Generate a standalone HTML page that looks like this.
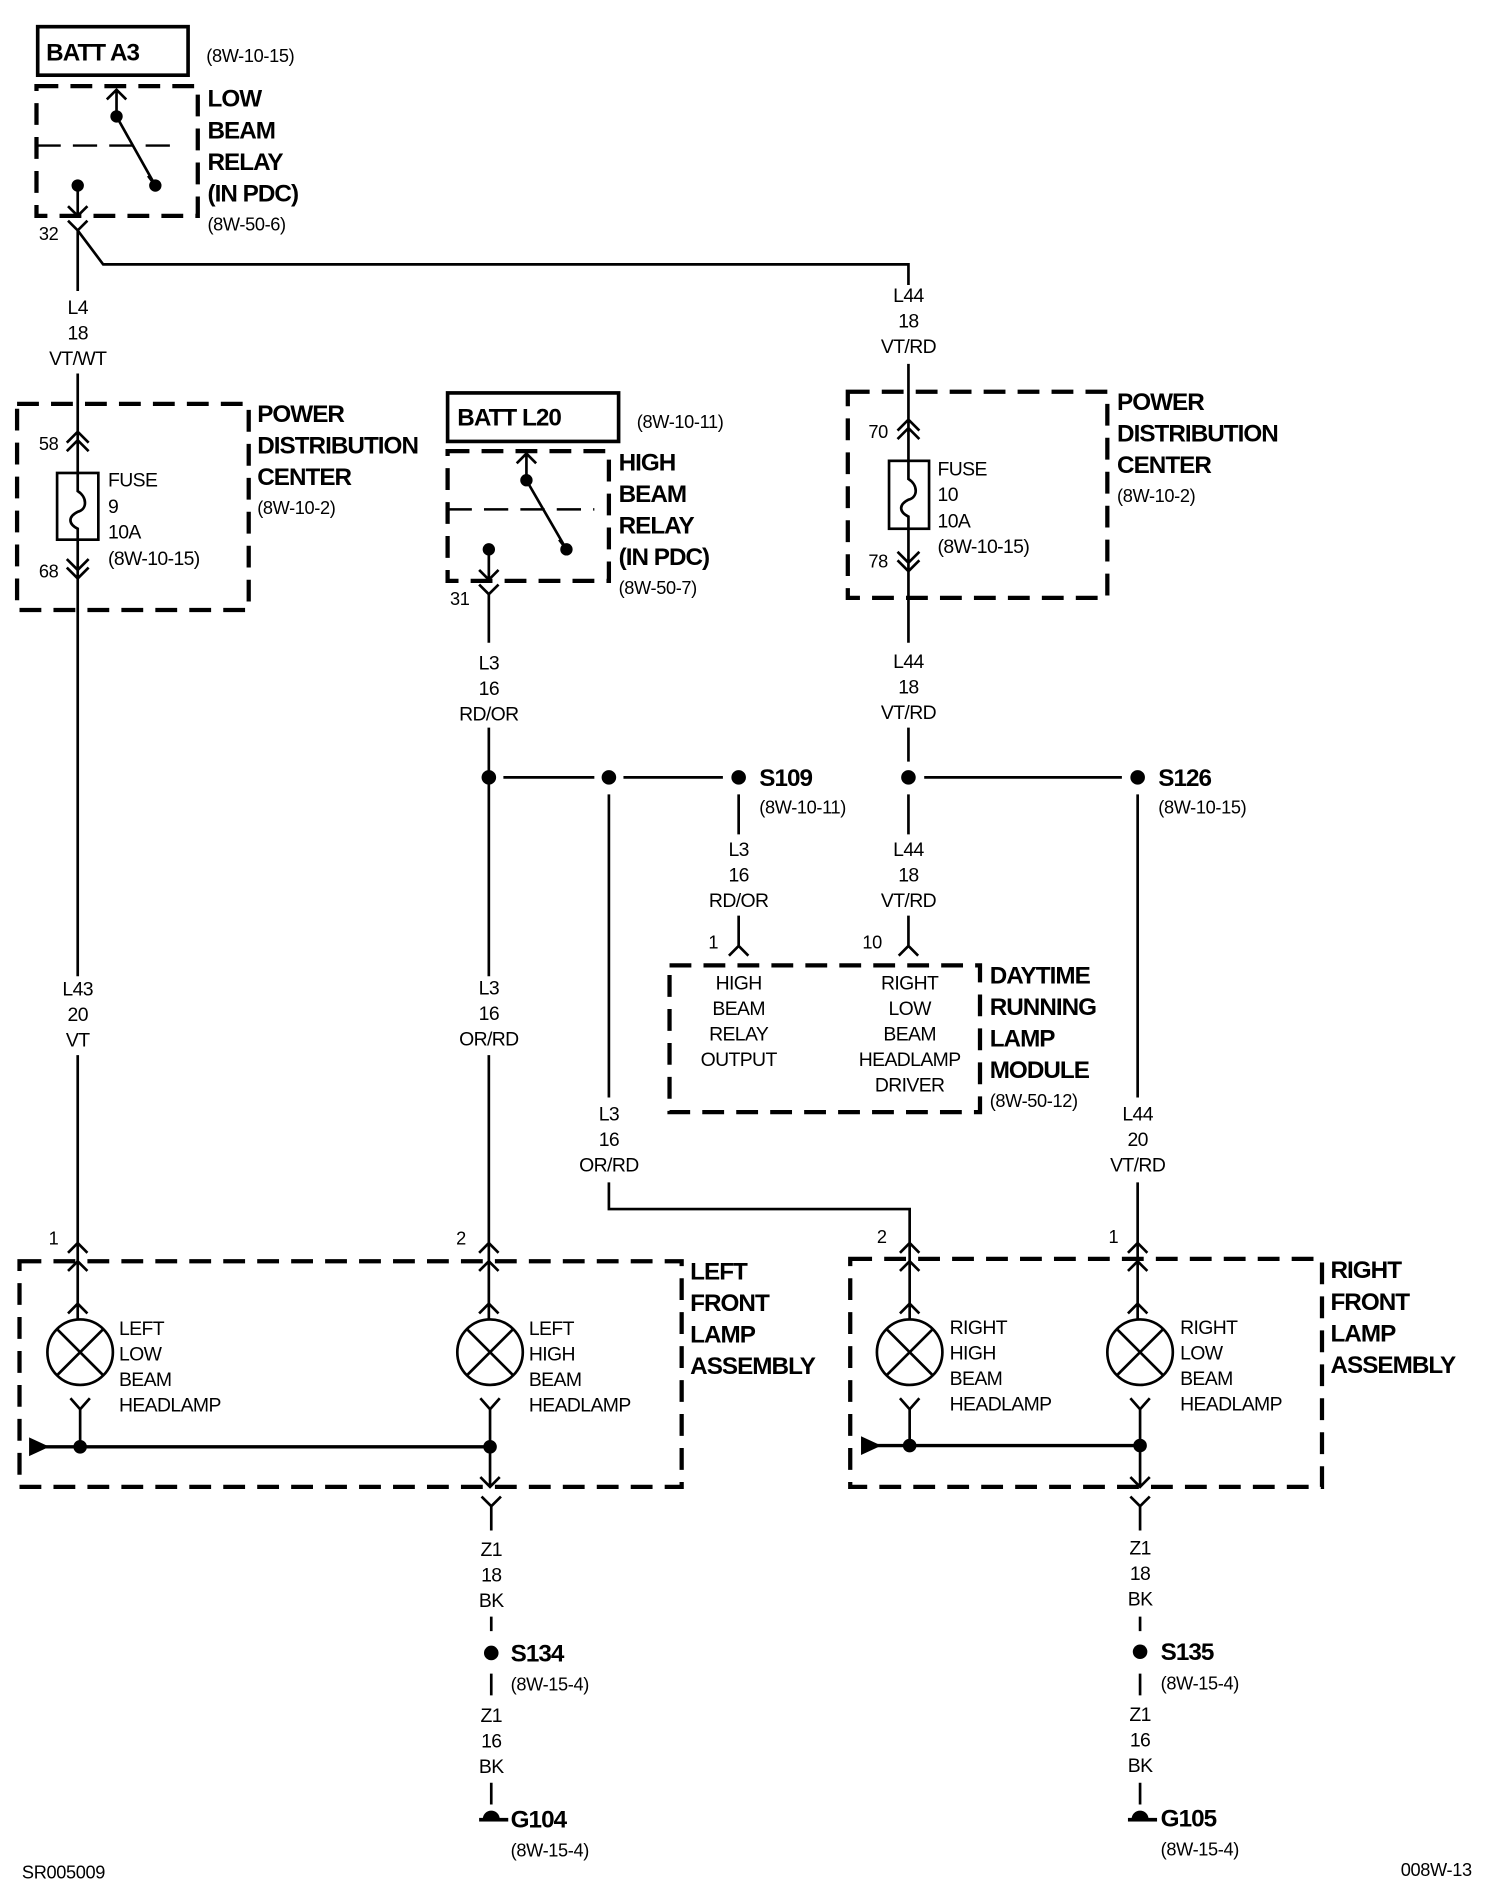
<!DOCTYPE html>
<html><head><meta charset="utf-8"><style>
html,body{margin:0;padding:0;background:#fff;}
svg{display:block;}
text{font-family:"Liberation Sans",Arial,sans-serif;fill:#000;}
.b{font-weight:bold;font-size:20px;letter-spacing:-0.8px;}
.s{font-size:15px;letter-spacing:-0.3px;}
.m{font-size:16px;letter-spacing:-0.5px;}
.w{stroke:#000;stroke-width:2.2;fill:none;}
.d{stroke:#000;stroke-width:3.5;fill:none;stroke-dasharray:18,10;}
.dl{stroke:#000;stroke-width:2;fill:none;stroke-dasharray:20,10;}
.c{text-anchor:middle;}
</style></head><body>
<svg width="1504" height="1904" viewBox="0 0 1240 1570" xmlns="http://www.w3.org/2000/svg">
<g class="w">
<!-- Low beam relay -->
<rect x="31" y="22" width="124" height="40" stroke-width="3"/>
<rect x="30" y="71" width="133" height="107" class="d"/>
<path d="M96 74 L96 96 M88 82 L96 74 L104 82 M96 96 L128 153 M122 145 L128 153"/>
<path d="M30 120 L150 120" class="dl"/>
<path d="M64 153 L64 178 M56 170 L64 178 L72 170"/>
<path d="M56 182 L64 190 L72 182 M64 190 L64 240 M64 190 L85 218 L749 218 L749 235"/>
<circle cx="96" cy="96" r="4" fill="#000"/><circle cx="128" cy="153" r="4" fill="#000"/><circle cx="64" cy="153" r="4" fill="#000"/>
<!-- left PDC -->
<rect x="14" y="333" width="191" height="170" class="d"/>
<path d="M64 308 L64 805 M55 365 L64 356 L73 365 M55 372 L64 363 L73 372 M55 461 L64 470 L73 461 M55 468 L64 477 L73 468"/>
<rect x="47" y="390" width="34" height="55" fill="#fff"/>
<path d="M64 390 L64 405 C72 410 72 420 64 422 C56 426 56 432 64 436 L64 445"/>
<path d="M64 870 L64 1075"/>
<!-- high beam relay -->
<rect x="369" y="324" width="141" height="40" stroke-width="3"/>
<rect x="369" y="372" width="133" height="107" class="d"/>
<path d="M434 374 L434 396 M426 382 L434 374 L442 382 M434 396 L467 453 M461 445 L467 453"/>
<path d="M369 420 L490 420" class="dl"/>
<path d="M403 453 L403 478 M395 470 L403 478 L411 470"/>
<circle cx="434" cy="396" r="4" fill="#000"/><circle cx="467" cy="453" r="4" fill="#000"/><circle cx="403" cy="453" r="4" fill="#000"/>
<path d="M395 482 L403 490 L411 482 M403 490 L403 530 M403 600 L403 805 M403 870 L403 1075"/>
<path d="M415 641 L490 641 M514 641 L596 641"/>
<path d="M502 655 L502 905 M502 975 L502 997 L750 997 L750 1075"/>
<path d="M609 655 L609 688 M609 755 L609 780 M601 788 L609 780 L617 788"/>
<!-- right PDC -->
<rect x="699" y="323" width="214" height="170" class="d"/>
<path d="M749 300 L749 530 M740 355 L749 346 L758 355 M740 362 L749 353 L758 362 M740 455 L749 464 L758 455 M740 462 L749 471 L758 462"/>
<rect x="733" y="380" width="33" height="56" fill="#fff"/>
<path d="M749 380 L749 395 C757 400 757 410 749 412 C741 416 741 422 749 426 L749 436"/>
<path d="M749 600 L749 628 M762 641 L925 641 M749 655 L749 688 M749 755 L749 780 M741 788 L749 780 L757 788"/>
<path d="M938 655 L938 905 M938 975 L938 1075"/>
<rect x="552" y="796" width="256" height="121" class="d"/>
<!-- left lamp assembly -->
<rect x="16" y="1040" width="546" height="186" class="d"/>
<path d="M56 1033 L64 1025 L72 1033 M56 1048 L64 1040 L72 1048 M56 1083 L64 1075 L72 1083 M64 1075 L64 1088"/>
<path d="M395 1033 L403 1025 L411 1033 M395 1048 L403 1040 L411 1048 M395 1083 L403 1075 L411 1083 M403 1075 L403 1088"/>
<circle cx="66" cy="1115" r="27"/><path d="M47 1096 L85 1134 M85 1096 L47 1134"/>
<circle cx="404" cy="1115" r="27"/><path d="M385 1096 L423 1134 M423 1096 L385 1134"/>
<path d="M58 1153 L66 1162 L74 1153 M66 1162 L66 1193 M396 1153 L404 1162 L412 1153 M404 1162 L404 1226 M396 1218 L404 1226 L412 1218"/>
<path d="M30 1193 L404 1193" stroke-width="2.8"/>
<path d="M25 1187 L38 1193 L25 1199 Z" fill="#000"/>
<circle cx="66" cy="1193" r="4.5" fill="#000"/><circle cx="404" cy="1193" r="4.5" fill="#000"/>
<path d="M397 1234 L405 1242 L413 1234 M405 1242 L405 1262 M405 1333 L405 1345 M405 1380 L405 1398 M405 1470 L405 1488"/>
<!-- right lamp assembly -->
<rect x="701" y="1038" width="389" height="188" class="d"/>
<path d="M742 1033 L750 1025 L758 1033 M742 1048 L750 1040 L758 1048 M742 1083 L750 1075 L758 1083 M750 1075 L750 1088"/>
<path d="M930 1033 L938 1025 L946 1033 M930 1048 L938 1040 L946 1048 M930 1083 L938 1075 L946 1083 M938 1075 L938 1088"/>
<circle cx="750" cy="1115" r="27"/><path d="M731 1096 L769 1134 M769 1096 L731 1134"/>
<circle cx="940" cy="1115" r="27"/><path d="M921 1096 L959 1134 M959 1096 L921 1134"/>
<path d="M742 1153 L750 1162 L758 1153 M750 1162 L750 1192 M932 1153 L940 1162 L948 1153 M940 1162 L940 1226 M932 1218 L940 1226 L948 1218"/>
<path d="M716 1192 L940 1192" stroke-width="2.8"/>
<path d="M711 1186 L724 1192 L711 1198 Z" fill="#000"/>
<circle cx="750" cy="1192" r="4.5" fill="#000"/><circle cx="940" cy="1192" r="4.5" fill="#000"/>
<path d="M932 1234 L940 1242 L948 1234 M940 1242 L940 1262 M940 1333 L940 1345 M940 1380 L940 1398 M940 1470 L940 1488"/>
</g>
<!-- splices -->
<g fill="#000">
<circle cx="403" cy="641" r="6"/><circle cx="502" cy="641" r="6"/><circle cx="609" cy="641" r="6"/>
<circle cx="749" cy="641" r="6"/><circle cx="938" cy="641" r="6"/>
<circle cx="405" cy="1363" r="6"/><circle cx="940" cy="1362" r="6"/>
<path d="M398 1500 A7 7 0 0 1 412 1500 Z"/><rect x="395" y="1499" width="24" height="3"/>
<path d="M933 1500 A7 7 0 0 1 947 1500 Z"/><rect x="930" y="1499" width="24" height="3"/>
</g>
<!-- text -->
<text class="b" x="38" y="50">BATT A3</text>
<text class="s" x="170" y="51">(8W-10-15)</text>
<text class="b" x="171" y="88">LOW</text><text class="b" x="171" y="114">BEAM</text><text class="b" x="171" y="140">RELAY</text><text class="b" x="171" y="166">(IN PDC)</text>
<text class="s" x="171" y="190">(8W-50-6)</text>
<text class="s" x="32" y="198">32</text>
<g class="m c"><text x="64" y="259">L4</text><text x="64" y="280">18</text><text x="64" y="301">VT/WT</text></g>
<text class="b" x="212" y="348">POWER</text><text class="b" x="212" y="374">DISTRIBUTION</text><text class="b" x="212" y="400">CENTER</text>
<text class="s" x="212" y="424">(8W-10-2)</text>
<text class="s" x="32" y="371">58</text><text class="s" x="32" y="476">68</text>
<g class="m"><text x="89" y="401">FUSE</text><text x="89" y="423">9</text><text x="89" y="444">10A</text><text x="89" y="466">(8W-10-15)</text></g>
<g class="m c"><text x="64" y="821">L43</text><text x="64" y="842">20</text><text x="64" y="863">VT</text></g>
<text class="b" x="377" y="351">BATT L20</text>
<text class="s" x="525" y="353">(8W-10-11)</text>
<text class="b" x="510" y="388">HIGH</text><text class="b" x="510" y="414">BEAM</text><text class="b" x="510" y="440">RELAY</text><text class="b" x="510" y="466">(IN PDC)</text>
<text class="s" x="510" y="490">(8W-50-7)</text>
<text class="s" x="371" y="499">31</text>
<g class="m c"><text x="403" y="552">L3</text><text x="403" y="573">16</text><text x="403" y="594">RD/OR</text></g>
<g class="m c"><text x="749" y="249">L44</text><text x="749" y="270">18</text><text x="749" y="291">VT/RD</text></g>
<text class="b" x="921" y="338">POWER</text><text class="b" x="921" y="364">DISTRIBUTION</text><text class="b" x="921" y="390">CENTER</text>
<text class="s" x="921" y="414">(8W-10-2)</text>
<text class="s" x="716" y="361">70</text><text class="s" x="716" y="468">78</text>
<g class="m"><text x="773" y="392">FUSE</text><text x="773" y="413">10</text><text x="773" y="435">10A</text><text x="773" y="456">(8W-10-15)</text></g>
<g class="m c"><text x="749" y="551">L44</text><text x="749" y="572">18</text><text x="749" y="593">VT/RD</text></g>
<text class="b" x="626" y="648">S109</text><text class="s" x="626" y="671">(8W-10-11)</text>
<text class="b" x="955" y="648">S126</text><text class="s" x="955" y="671">(8W-10-15)</text>
<g class="m c"><text x="609" y="706">L3</text><text x="609" y="727">16</text><text x="609" y="748">RD/OR</text></g>
<g class="m c"><text x="749" y="706">L44</text><text x="749" y="727">18</text><text x="749" y="748">VT/RD</text></g>
<text class="s" x="584" y="782">1</text><text class="s" x="711" y="782">10</text>
<g class="m c"><text x="609" y="816">HIGH</text><text x="609" y="837">BEAM</text><text x="609" y="858">RELAY</text><text x="609" y="879">OUTPUT</text></g>
<g class="m c"><text x="750" y="816">RIGHT</text><text x="750" y="837">LOW</text><text x="750" y="858">BEAM</text><text x="750" y="879">HEADLAMP</text><text x="750" y="900">DRIVER</text></g>
<text class="b" x="816" y="811">DAYTIME</text><text class="b" x="816" y="837">RUNNING</text><text class="b" x="816" y="863">LAMP</text><text class="b" x="816" y="889">MODULE</text>
<text class="s" x="816" y="913">(8W-50-12)</text>
<g class="m c"><text x="403" y="820">L3</text><text x="403" y="841">16</text><text x="403" y="862">OR/RD</text></g>
<g class="m c"><text x="502" y="924">L3</text><text x="502" y="945">16</text><text x="502" y="966">OR/RD</text></g>
<g class="m c"><text x="938" y="924">L44</text><text x="938" y="945">20</text><text x="938" y="966">VT/RD</text></g>
<text class="s" x="40" y="1026">1</text><text class="s" x="376" y="1026">2</text>
<text class="s" x="723" y="1025">2</text><text class="s" x="914" y="1025">1</text>
<g class="m"><text x="98" y="1101">LEFT</text><text x="98" y="1122">LOW</text><text x="98" y="1143">BEAM</text><text x="98" y="1164">HEADLAMP</text></g>
<g class="m"><text x="436" y="1101">LEFT</text><text x="436" y="1122">HIGH</text><text x="436" y="1143">BEAM</text><text x="436" y="1164">HEADLAMP</text></g>
<g class="m"><text x="783" y="1100">RIGHT</text><text x="783" y="1121">HIGH</text><text x="783" y="1142">BEAM</text><text x="783" y="1163">HEADLAMP</text></g>
<g class="m"><text x="973" y="1100">RIGHT</text><text x="973" y="1121">LOW</text><text x="973" y="1142">BEAM</text><text x="973" y="1163">HEADLAMP</text></g>
<text class="b" x="569" y="1055">LEFT</text><text class="b" x="569" y="1081">FRONT</text><text class="b" x="569" y="1107">LAMP</text><text class="b" x="569" y="1133">ASSEMBLY</text>
<text class="b" x="1097" y="1054">RIGHT</text><text class="b" x="1097" y="1080">FRONT</text><text class="b" x="1097" y="1106">LAMP</text><text class="b" x="1097" y="1132">ASSEMBLY</text>
<g class="m c"><text x="405" y="1283">Z1</text><text x="405" y="1304">18</text><text x="405" y="1325">BK</text></g>
<g class="m c"><text x="405" y="1420">Z1</text><text x="405" y="1441">16</text><text x="405" y="1462">BK</text></g>
<g class="m c"><text x="940" y="1282">Z1</text><text x="940" y="1303">18</text><text x="940" y="1324">BK</text></g>
<g class="m c"><text x="940" y="1419">Z1</text><text x="940" y="1440">16</text><text x="940" y="1461">BK</text></g>
<text class="b" x="421" y="1370">S134</text><text class="s" x="421" y="1394">(8W-15-4)</text>
<text class="b" x="957" y="1369">S135</text><text class="s" x="957" y="1393">(8W-15-4)</text>
<text class="b" x="421" y="1507">G104</text><text class="s" x="421" y="1531">(8W-15-4)</text>
<text class="b" x="957" y="1506">G105</text><text class="s" x="957" y="1530">(8W-15-4)</text>
<text class="s" x="18" y="1549">SR005009</text>
<text class="s" x="1155" y="1547">008W-13</text>
</svg>
</body></html>
